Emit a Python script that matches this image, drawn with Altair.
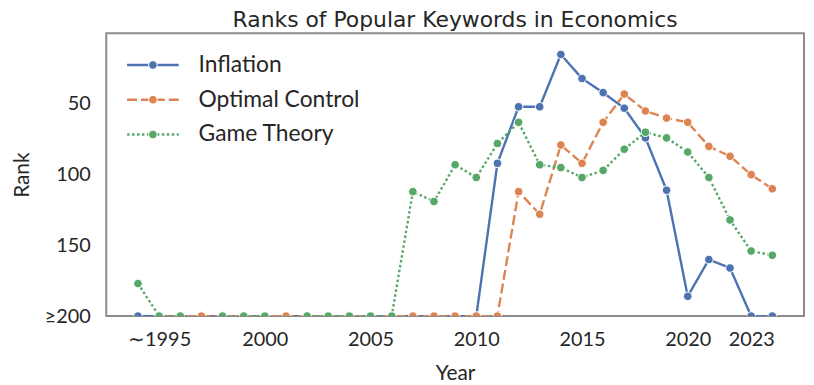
import altair as alt
import pandas as pd

years = list(range(1994, 2025))
series = ["Inflation", "Optimal Control", "Game Theory"]
colors = ["#4C72B0", "#DD8452", "#55A868"]
dashes = [[1, 0], [10, 4], [2.5, 2.5]]

inflation = [200, 200, 200, 200, 200, 200, 200, 200, 200, 200, 200, 200, 200, 200, 200, 200, 200,
             92, 52, 52, 15, 32, 42, 53, 74, 111, 186, 160, 166, 200, 200]
optimal = [None, 200, 200, 200, 200, 200, 200, 200, 200, 200, 200, 200, 200, 200, 200, 200, 200, 200,
           112, 128, 79, 92, 63, 43, 55, 60, 63, 80, 87, 100, 110]
game = [177, 200, 200, None, 200, 200, 200, None, 200, 200, 200, 200, 200,
        112, 119, 93, 102, 78, 63, 93, 95, 102, 97, 82, 70, 74, 84, 102, 132, 154, 157]

x_ticks = [1995, 2000, 2005, 2010, 2015, 2020, 2023]
y_ticks = [50, 100, 150, 200]

FONT = "Lato"
TXT = "#262626"

rows = []
for name, vals in zip(series, [inflation, optimal, game]):
    for yr, v in zip(years, vals):
        rows.append({"Year": yr, "Rank": v, "Keyword": name})
df = pd.DataFrame(rows)

x = alt.X("Year:Q",
          scale=alt.Scale(domain=[1992.5, 2025.5], nice=False, zero=False),
          axis=alt.Axis(values=x_ticks, format="d", title="Year",
                        labelExpr="datum.value == 1995 ? '∼1995' : datum.label",
                        labelPadding=14, titlePadding=13))
y = alt.Y("Rank:Q",
          scale=alt.Scale(domain=[0, 200], reverse=True, nice=False, zero=False),
          axis=alt.Axis(values=y_ticks, title="Rank",
                        labelExpr="datum.value == 200 ? '≥200' : datum.label",
                        labelPadding=16, titlePadding=12))
color = alt.Color("Keyword:N", scale=alt.Scale(domain=series, range=colors), legend=None)
dash = alt.StrokeDash("Keyword:N", scale=alt.Scale(domain=series, range=dashes), legend=None)

series_layers = []
for name in series:
    base = alt.Chart(df).transform_filter(alt.datum.Keyword == name)
    line = base.mark_line(strokeWidth=2.4, clip=True).encode(x=x, y=y, color=color, strokeDash=dash)
    pts = base.mark_circle(size=75, opacity=1, stroke="white", strokeWidth=1, clip=True).encode(
        x=x, y=y, color=color)
    series_layers += [line, pts]
main = alt.layer(*series_layers)

leg = pd.DataFrame({"Keyword": series})
ly = alt.Y("Keyword:N", scale=alt.Scale(type="point", domain=series, range=[32, 102], padding=0), axis=None)
legbase = alt.Chart(leg)
leg_rule = legbase.mark_rule(strokeWidth=2.4).encode(
    x=alt.value(21), x2=alt.value(73), y=ly, color=color, strokeDash=dash)
leg_pt = legbase.mark_circle(size=75, opacity=1, stroke="white", strokeWidth=1).encode(
    x=alt.value(47), y=ly, color=color)
leg_txt = legbase.mark_text(align="left", baseline="middle", font=FONT, fontSize=23, color=TXT).encode(
    x=alt.value(93), y=ly, text="Keyword:N")
legend = alt.layer(leg_rule, leg_pt, leg_txt)

chart = alt.layer(main, legend).resolve_scale(y="independent").properties(
    width=703, height=285,
    title=alt.TitleParams("Ranks of Popular Keywords in Economics", font="DejaVu Sans", fontSize=22,
                          fontWeight="normal", color=TXT, anchor="middle", offset=1),
    autosize=alt.AutoSizeParams(type="none"),
    padding={"left": 99, "top": 24, "right": 2, "bottom": 66},
).configure_view(
    stroke="#8c8c8c", strokeWidth=2
).configure_axis(
    domain=False, ticks=False, grid=False,
    labelFont=FONT, labelFontSize=20, labelColor=TXT,
    titleFont=FONT, titleFontSize=21, titleFontWeight="normal", titleColor=TXT,
)

chart.save("out.html", embed_options={"renderer": "svg", "actions": False})
